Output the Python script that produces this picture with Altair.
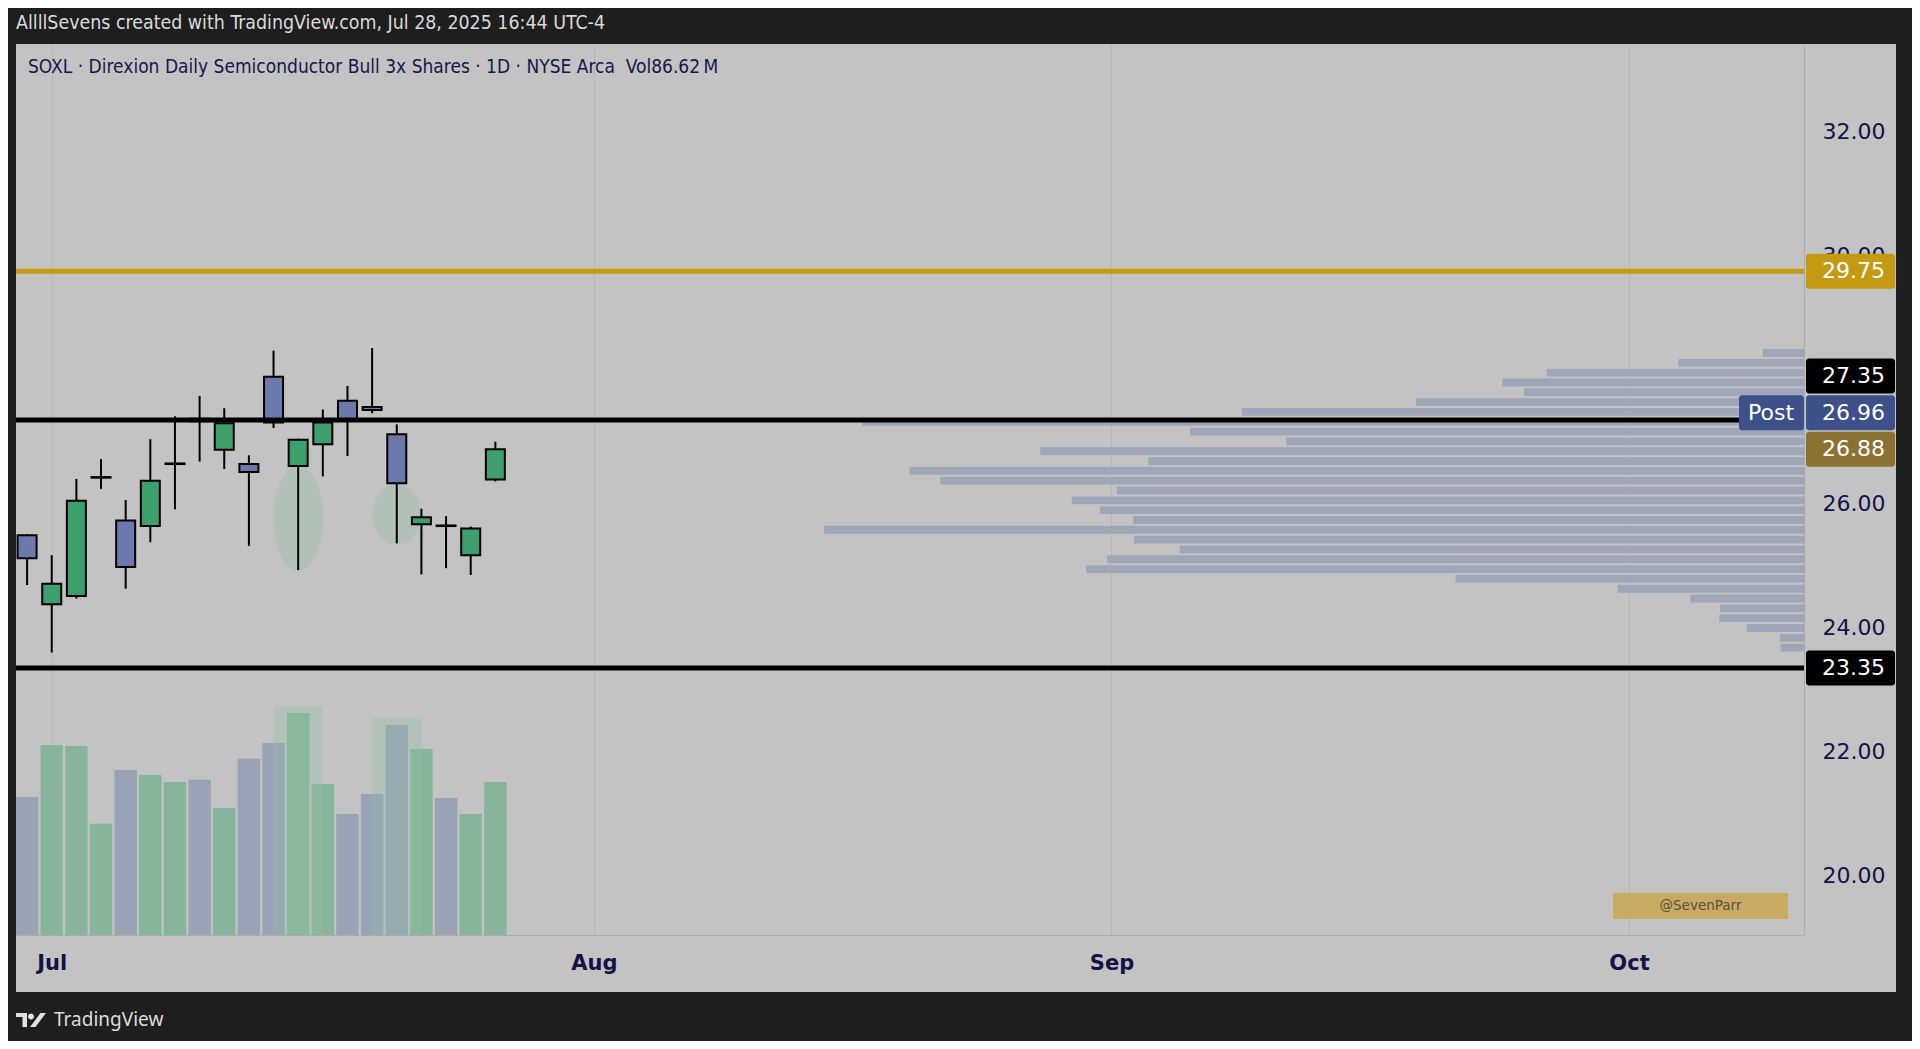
import altair as alt
import numpy as np
import pandas as pd

# ---------------- texts ----------------
HEADER = "AllllSevens created with TradingView.com, Jul 28, 2025 16:44 UTC-4"
LEGEND = "SOXL \u00b7 Direxion Daily Semiconductor Bull 3x Shares \u00b7 1D \u00b7 NYSE Arca\u00a0\u00a0Vol86.62\u2009M"
WATERMARK = "@SevenParr"
BRAND = "TradingView"
POST_TEXT = "Post"

# ---------------- calendar ----------------
HOLIDAYS = ["2025-07-04", "2025-09-01"]
FIRST_DAY = "2025-06-30"
LAST_DAY = "2025-10-31"

# ---------------- daily candles (Jun 30 .. Jul 28, 2025) ----------------
opens = [25.49, 24.38, 24.51, 26.42, 25.73, 25.64, 26.64, 27.37, 26.87, 26.64,
         28.05, 26.61, 26.96, 27.66, 27.56, 27.12, 25.67, 25.65, 25.17, 26.39]
highs = [25.51, 25.17, 26.40, 26.72, 26.06, 27.04, 27.41, 27.74, 27.54, 26.78,
         28.47, 27.05, 27.52, 27.90, 28.51, 27.28, 25.92, 25.80, 25.63, 27.00]
lows = [24.69, 23.60, 24.47, 26.24, 24.63, 25.38, 25.91, 26.68, 26.56, 25.32,
        27.22, 24.93, 26.44, 26.77, 27.46, 25.36, 24.86, 24.96, 24.85, 26.36]
closes = [25.12, 24.71, 26.05, 26.43, 24.98, 26.37, 26.65, 27.33, 27.30, 26.51,
          27.31, 27.03, 27.31, 27.36, 27.51, 26.33, 25.78, 25.64, 25.60, 26.88]
volumes_m = [78.1, 107.6, 107.0, 62.9, 93.4, 90.6, 86.6, 87.8, 71.9, 99.7,
             108.7, 125.7, 85.5, 68.5, 79.8, 118.9, 105.3, 77.6, 68.5, 86.62]

# visible-range volume profile, rows from lowest price to highest (millions)
profile_vol_m = [2.9, 3.0, 7.1, 10.5, 10.4, 14.1, 23.1, 43.2, 89.0, 86.4, 77.4,
                 83.1, 121.5, 83.2, 87.3, 90.8, 85.2, 107.1, 110.9, 81.3, 94.7,
                 64.2, 76.1, 116.8, 69.7, 48.1, 34.7, 37.4, 31.9, 15.6, 5.1]

# drawn levels
level_prices = [29.75, 27.35, 23.35]
post_price = 26.96

# drawn annotations
ellipse_center_idx = [11, 15]
ellipse_center_price = [25.76, 25.83]
ellipse_half_width_bars = [1.0, 0.98]
ellipse_half_height_price = [0.84, 0.48]
highlight_from_idx = [10.0, 14.0]
highlight_to_idx = [12.0, 16.0]
highlight_top_vol_m = [129.4, 123.0]

# price-scale labels that are visible (28.00 is hidden under the 27.35 tag)
price_ticks = [20, 22, 24, 26, 30, 32]

# ---------------- styles ----------------
BG = "#c3c3c3"
FRAME = "#1e1e1e"
NAVY = "#131347"
UP = "#3d9f6c"
DOWN = "#6b7aab"
VOL_UP = "#87b59b"
VOL_DOWN = "#9aa3b6"
PROFILE = "#9ea6b7"
GOLD = "#c49a12"
BLACK = "#000000"
POST_BLUE = "#3d5087"
LAST_OLIVE = "#8c7232"
LEVEL_COLORS = [GOLD, BLACK, BLACK]
GRID = "#b6b6b6"
SEP = "#acacac"

W, H = 1788, 891
X_DOMAIN = [-0.45, 72.1]
Y_DOMAIN = [19.044, 33.415]
VOL_DOMAIN = [0, 504.3]
PROFILE_SHARE = 0.548
TAG_FONT = 22


def xs():
    return alt.Scale(domain=X_DOMAIN, nice=False, zero=False, padding=0)


def ys():
    return alt.Scale(domain=Y_DOMAIN, nice=False, zero=False, padding=0)


def vs():
    return alt.Scale(domain=VOL_DOMAIN, nice=False, zero=True, padding=0)


# ---------------- derived tables ----------------
days = pd.bdate_range(FIRST_DAY, LAST_DAY, freq="C", holidays=HOLIDAYS)
month_idx, month_lbl = [], []
for i in range(1, len(days)):
    if days[i].month != days[i - 1].month and i <= X_DOMAIN[1]:
        month_idx.append(i)
        month_lbl.append(days[i].strftime("%b"))
label_expr = "''"
for i, l in reversed(list(zip(month_idx, month_lbl))):
    label_expr = f"datum.value == {i} ? '{l}' : {label_expr}"

n = len(closes)
candles = pd.DataFrame({
    "idx": list(range(n)),
    "date": [d.strftime("%Y-%m-%d") for d in days[:n]],
    "open": opens, "high": highs, "low": lows, "close": closes,
    "vol": volumes_m,
})
candles["dir"] = np.where(candles["close"] >= candles["open"], "up", "down")

lo_all, hi_all = min(lows), max(highs)
nrows = len(profile_vol_m)
row_h = (hi_all - lo_all) / nrows
profile = pd.DataFrame({
    "vol": profile_vol_m,
    "y1": [lo_all + (i + 0.1) * row_h for i in range(nrows)],
    "y2": [lo_all + (i + 0.9) * row_h for i in range(nrows)],
})

ell_rows = []
tt = np.linspace(0, np.pi, 73)
for k in range(len(ellipse_center_idx)):
    for t in tt:
        ell_rows.append({
            "eid": k,
            "x": ellipse_center_idx[k] - ellipse_half_width_bars[k] * np.cos(t),
            "ylo": ellipse_center_price[k] - ellipse_half_height_price[k] * np.sin(t),
            "yhi": ellipse_center_price[k] + ellipse_half_height_price[k] * np.sin(t),
        })
ellipses = pd.DataFrame(ell_rows)

highlights = pd.DataFrame({"x0": highlight_from_idx, "x1": highlight_to_idx,
                           "top": highlight_top_vol_m})
levels = pd.DataFrame({"price": level_prices, "color": LEVEL_COLORS})
one = pd.DataFrame({"a": [0]})

# ---------------- axes (grid + labels) ----------------
axis_x = alt.Axis(values=month_idx, labelExpr=label_expr, grid=True, gridColor=GRID,
                  gridWidth=1, ticks=False, domain=True, domainColor=SEP,
                  labelFont="DejaVu Sans", labelFontWeight="bold", labelFontSize=21,
                  labelColor=NAVY, labelPadding=17, title=None, zindex=0,
                  labelFlush=False, labelOverlap=False, labelBound=False)
axis_y = alt.Axis(orient="right", values=price_ticks, format=".2f", grid=False,
                  ticks=False, domain=True, domainColor=SEP, labelFont="DejaVu Sans",
                  labelFontSize=TAG_FONT, labelColor=NAVY, labelPadding=18, title=None,
                  zindex=0, labelFlush=False, labelOverlap=False, labelBound=False)

# ---------------- volume profile ----------------
profile_layer = alt.Chart(profile).mark_rect(color=PROFILE).encode(
    x=alt.X("vol:Q", scale=alt.Scale(domain=[0, max(profile_vol_m) / PROFILE_SHARE],
                                     reverse=True, nice=False, zero=True, padding=0), axis=None),
    x2=alt.datum(0),
    y=alt.Y("y1:Q", scale=ys(), axis=None),
    y2="y2:Q",
)

# ---------------- volume ----------------
vol_bars = alt.Chart(candles).mark_bar(width=22.5).encode(
    x=alt.X("idx:Q", scale=xs(), axis=None),
    y=alt.Y("vol:Q", scale=vs(), axis=None),
    color=alt.Color("dir:N", scale=alt.Scale(domain=["up", "down"], range=[VOL_UP, VOL_DOWN]), legend=None),
)
vol_hl = alt.Chart(highlights).mark_rect(color="#8fc0a0", opacity=0.3).encode(
    x=alt.X("x0:Q", scale=xs(), axis=None),
    x2="x1:Q",
    y=alt.Y("top:Q", scale=vs(), axis=None),
    y2=alt.datum(0),
)

# ---------------- price ----------------
ell_layer = alt.Chart(ellipses).mark_area(color="#8fbf9f", opacity=0.32, stroke="#8fbf9f",
                                          strokeOpacity=0.4, strokeWidth=1.5).encode(
    x=alt.X("x:Q", scale=xs(), axis=None),
    y=alt.Y("yhi:Q", scale=ys(), axis=None),
    y2="ylo:Q",
    detail="eid:N",
)
wicks = alt.Chart(candles).mark_rule(color=BLACK, strokeWidth=2).encode(
    x=alt.X("idx:Q", scale=xs(), axis=axis_x),
    y=alt.Y("low:Q", scale=ys(), axis=axis_y),
    y2="high:Q",
)
bodies = alt.Chart(candles).mark_bar(width=19, stroke=BLACK, strokeWidth=2).encode(
    x=alt.X("idx:Q", scale=xs(), axis=None),
    y=alt.Y("open:Q", scale=ys(), axis=None),
    y2="close:Q",
    color=alt.Color("dir:N", scale=alt.Scale(domain=["up", "down"], range=[UP, DOWN]), legend=None),
)
level_lines = alt.Chart(levels).mark_rule(strokeWidth=5).encode(
    y=alt.Y("price:Q", scale=ys(), axis=None),
    color=alt.Color("color:N", scale=None),
)

label_specs = [
    (level_prices[0], GOLD, 0),
    (level_prices[1], BLACK, -44),
    (post_price, POST_BLUE, -31.5),
    (closes[-1], LAST_OLIVE, 0),
    (level_prices[2], BLACK, 0),
]
label_layers = []
for price, fill, dy in label_specs:
    d = pd.DataFrame({"price": [price]})
    label_layers.append(alt.Chart(d).mark_bar(orient="horizontal", height=35, cornerRadius=3,
                                              yOffset=dy, color=fill).encode(
        x=alt.value(1790), x2=alt.value(1879),
        y=alt.Y("price:Q", scale=ys(), axis=None)))
    label_layers.append(alt.Chart(d).mark_text(align="left", baseline="middle", yOffset=dy,
                                               font="DejaVu Sans", fontSize=TAG_FONT, color="#ffffff").encode(
        x=alt.value(1806),
        y=alt.Y("price:Q", scale=ys(), axis=None),
        text=alt.Text("price:Q", format=".2f")))
post_d = pd.DataFrame({"price": [post_price], "t": [POST_TEXT]})
label_layers.append(alt.Chart(post_d).mark_bar(orient="horizontal", height=35, cornerRadius=3,
                                               yOffset=-31.5, color=POST_BLUE).encode(
    x=alt.value(1723), x2=alt.value(1788),
    y=alt.Y("price:Q", scale=ys(), axis=None)))
label_layers.append(alt.Chart(post_d).mark_text(align="center", baseline="middle", yOffset=-31.5,
                                                font="DejaVu Sans", fontSize=TAG_FONT, color="#ffffff").encode(
    x=alt.value(1755),
    y=alt.Y("price:Q", scale=ys(), axis=None),
    text="t:N"))

# ---------------- decorations ----------------
def frame(x0, x1, y0, y1):
    return alt.Chart(one).mark_rect(color=FRAME).encode(
        x=alt.value(x0), x2=alt.value(x1), y=alt.value(y0), y2=alt.value(y1))


NARROW = "Liberation Sans Narrow, Arial Narrow, DejaVu Sans Condensed, sans-serif"
header = alt.Chart(one).mark_text(align="left", baseline="middle", font=NARROW, fontSize=19.4,
                                  color="#dadada", text=HEADER).encode(
    x=alt.value(0), y=alt.value(-21))
legend = alt.Chart(one).mark_text(align="left", baseline="middle", font=NARROW, fontSize=19,
                                  color="#17174d", text=LEGEND).encode(
    x=alt.value(12), y=alt.value(23))
wm_box = alt.Chart(one).mark_rect(color="#c8aa63").encode(
    x=alt.value(1597), x2=alt.value(1772), y=alt.value(849), y2=alt.value(875))
wm_text = alt.Chart(one).mark_text(align="center", baseline="middle", font="DejaVu Sans",
                                   fontSize=13.5, color="#5a5040", text=WATERMARK).encode(
    x=alt.value(1684.5), y=alt.value(862))
LOGO = ("M -1 -0.467 L -0.267 -0.467 L -0.267 0.467 L -0.567 0.467 L -0.567 -0.2 L -1 -0.2 Z "
        "M -0.2 -0.233 A 0.2 0.2 0 1 0 0.2 -0.233 A 0.2 0.2 0 1 0 -0.2 -0.233 Z "
        "M -0.067 0.467 L 0.3 0.467 L 1 -0.467 L 0.633 -0.467 Z")
logo = alt.Chart(one).mark_point(shape=LOGO, filled=True, size=900, opacity=1,
                                 color="#e0e0e0", strokeWidth=0).encode(
    x=alt.value(15), y=alt.value(976))
brand = alt.Chart(one).mark_text(align="left", baseline="middle", font="Noto Sans",
                                 fontSize=19, color="#dcdcdc", text=BRAND).encode(
    x=alt.value(38), y=alt.value(976))

layers = [profile_layer, vol_bars, vol_hl, ell_layer, wicks, bodies, level_lines, *label_layers,
          frame(-8, 1896, -36, 0), frame(-8, 0, 0, 948), frame(1880, 1896, 0, 948),
          frame(-8, 1896, 948, 1000),
          header, legend, wm_box, wm_text, logo, brand]

chart = alt.layer(*layers).resolve_scale(
    x="independent", y="independent", color="independent"
).properties(
    width=W, height=H,
    padding={"left": 8, "top": 36, "right": 108, "bottom": 106},
    autosize=alt.AutoSizeParams(type="none"),
).configure(background=BG).configure_view(stroke=None)

chart.save("out.html", embed_options={"renderer": "svg", "actions": False})
